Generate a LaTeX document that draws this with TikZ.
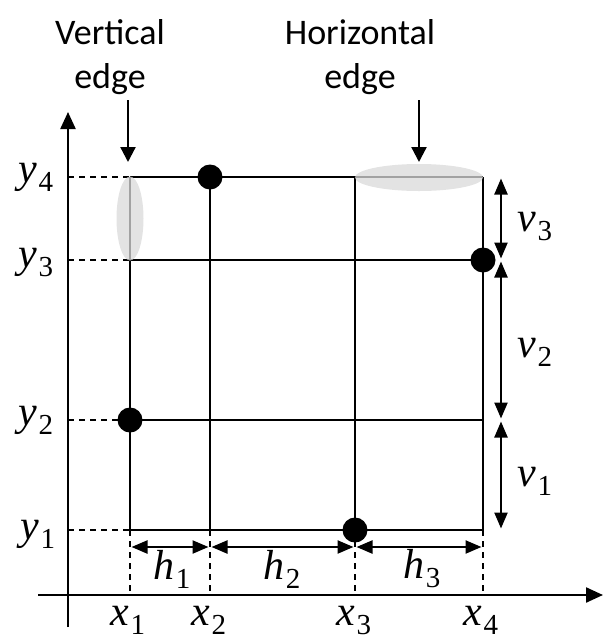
\documentclass[tikz,border=0pt]{standalone}
\usepackage{fontspec}
\setmainfont{Carlito}
\newfontfamily\lblfont{Liberation Serif}
\usetikzlibrary{arrows.meta}
\newcommand{\lbl}[2]{{\lblfont\fontsize{42}{44}\selectfont\itshape #1\kern1pt\raisebox{-9pt}{\upshape\fontsize{29}{30}\selectfont #2}}}
\begin{document}
\begin{tikzpicture}[x=1pt,y=-1pt,
  gridline/.style={line width=2.3pt},
  guide/.style={line width=2pt,dash pattern=on 6pt off 5pt},
  axis/.style={line width=2.3pt,-{Triangle[length=17pt,width=15pt]}},
  dim/.style={line width=2.3pt,{Triangle[length=16pt,width=13pt]}-{Triangle[length=16pt,width=13pt]},shorten <=1.5pt,shorten >=1.5pt},
  pointer/.style={line width=2.3pt,-{Triangle[length=15pt,width=15pt]}},
  dot/.style={circle,fill=black,minimum size=25pt,inner sep=0pt},
  lab/.style={inner sep=0pt},
  title/.style={font=\fontsize{36}{44}\selectfont,align=center,inner sep=0pt},
  hilite/.style={fill=gray!30,fill opacity=0.75,draw=none}]
\useasboundingbox (0,0) rectangle (603,641);
% coordinates
\coordinate (yt) at (68,112);
\coordinate (yb) at (68,627);
\coordinate (xl) at (38,595);
\coordinate (xr) at (603,595);
\foreach \i/\x in {1/130,2/210,3/355,4/483}{
  \coordinate (X\i) at (\x,595);
  \coordinate (H\i) at (\x,547);
}
\foreach \j/\y in {1/530,2/420,3/260,4/177}{
  \coordinate (Y\j) at (68,\y);
  \coordinate (V\j) at (501,\y);
}
\foreach \i/\x in {1/130,2/210,3/355,4/483}{
  \foreach \j/\y in {1/530,2/420,3/260,4/177}{
    \coordinate (P\i\j) at (\x,\y);
  }
}
% axes
\draw[axis] (yb) -- (yt);
\draw[axis] (xl) -- (xr);
% guides
\foreach \j in {1,2,3,4}{ \draw[guide] (Y\j) -- (P1\j); }
\foreach \i in {1,2,3,4}{ \draw[guide] (P\i1) -- (X\i); }
% grid
\foreach \j in {1,2,3,4}{ \draw[gridline] (P1\j) -- (P4\j); }
\foreach \i in {1,2,3,4}{ \draw[gridline] (P\i4) -- (P\i1); }
% highlights
\path[hilite] (130,218.5) ellipse [x radius=13.5pt,y radius=42pt];
\path[hilite] (419,177.5) ellipse [x radius=64pt,y radius=13.5pt];
% dots
\node[dot] (d1) at (P24) {};
\node[dot] (d2) at (P43) {};
\node[dot] (d3) at (P12) {};
\node[dot] (d4) at (P31) {};
% dimension arrows
\draw[dim] (H1) -- (H2);
\draw[dim] (H2) -- (H3);
\draw[dim] (H3) -- (H4);
\draw[dim] (V4) -- (V3);
\draw[dim] (V3) -- (V2);
\draw[dim] (V2) -- (V1);
% labels
\node[lab] (ly4) at (36,177) {\lbl{y}{4}};
\node[lab] (ly3) at (36,262) {\lbl{y}{3}};
\node[lab] (ly2) at (36,420) {\lbl{y}{2}};
\node[lab] (ly1) at (38,534) {\lbl{y}{1}};
\node[lab] (lx1) at (128,620) {\lbl{x}{1}};
\node[lab] (lx2) at (209,620) {\lbl{x}{2}};
\node[lab] (lx3) at (354,620) {\lbl{x}{3}};
\node[lab] (lx4) at (481,620) {\lbl{x}{4}};
\node[lab] (lh1) at (172,569) {\lbl{h}{1}};
\node[lab] (lh2) at (282,569) {\lbl{h}{2}};
\node[lab] (lh3) at (422,569) {\lbl{h}{3}};
\node[lab] (lv3) at (535,226) {\lbl{v}{3}};
\node[lab] (lv2) at (535,352) {\lbl{v}{2}};
\node[lab] (lv1) at (535,481) {\lbl{v}{1}};
% titles
\node[title] (tv) at (110,57) {Vertical\\edge};
\node[title] (th) at (360,57) {Horizontal\\edge};
\coordinate (av0) at (128,100);
\coordinate (av1) at (128,162);
\coordinate (ah0) at (419,100);
\coordinate (ah1) at (419,162);
\draw[pointer] (av0) -- (av1);
\draw[pointer] (ah0) -- (ah1);
\end{tikzpicture}
\end{document}
